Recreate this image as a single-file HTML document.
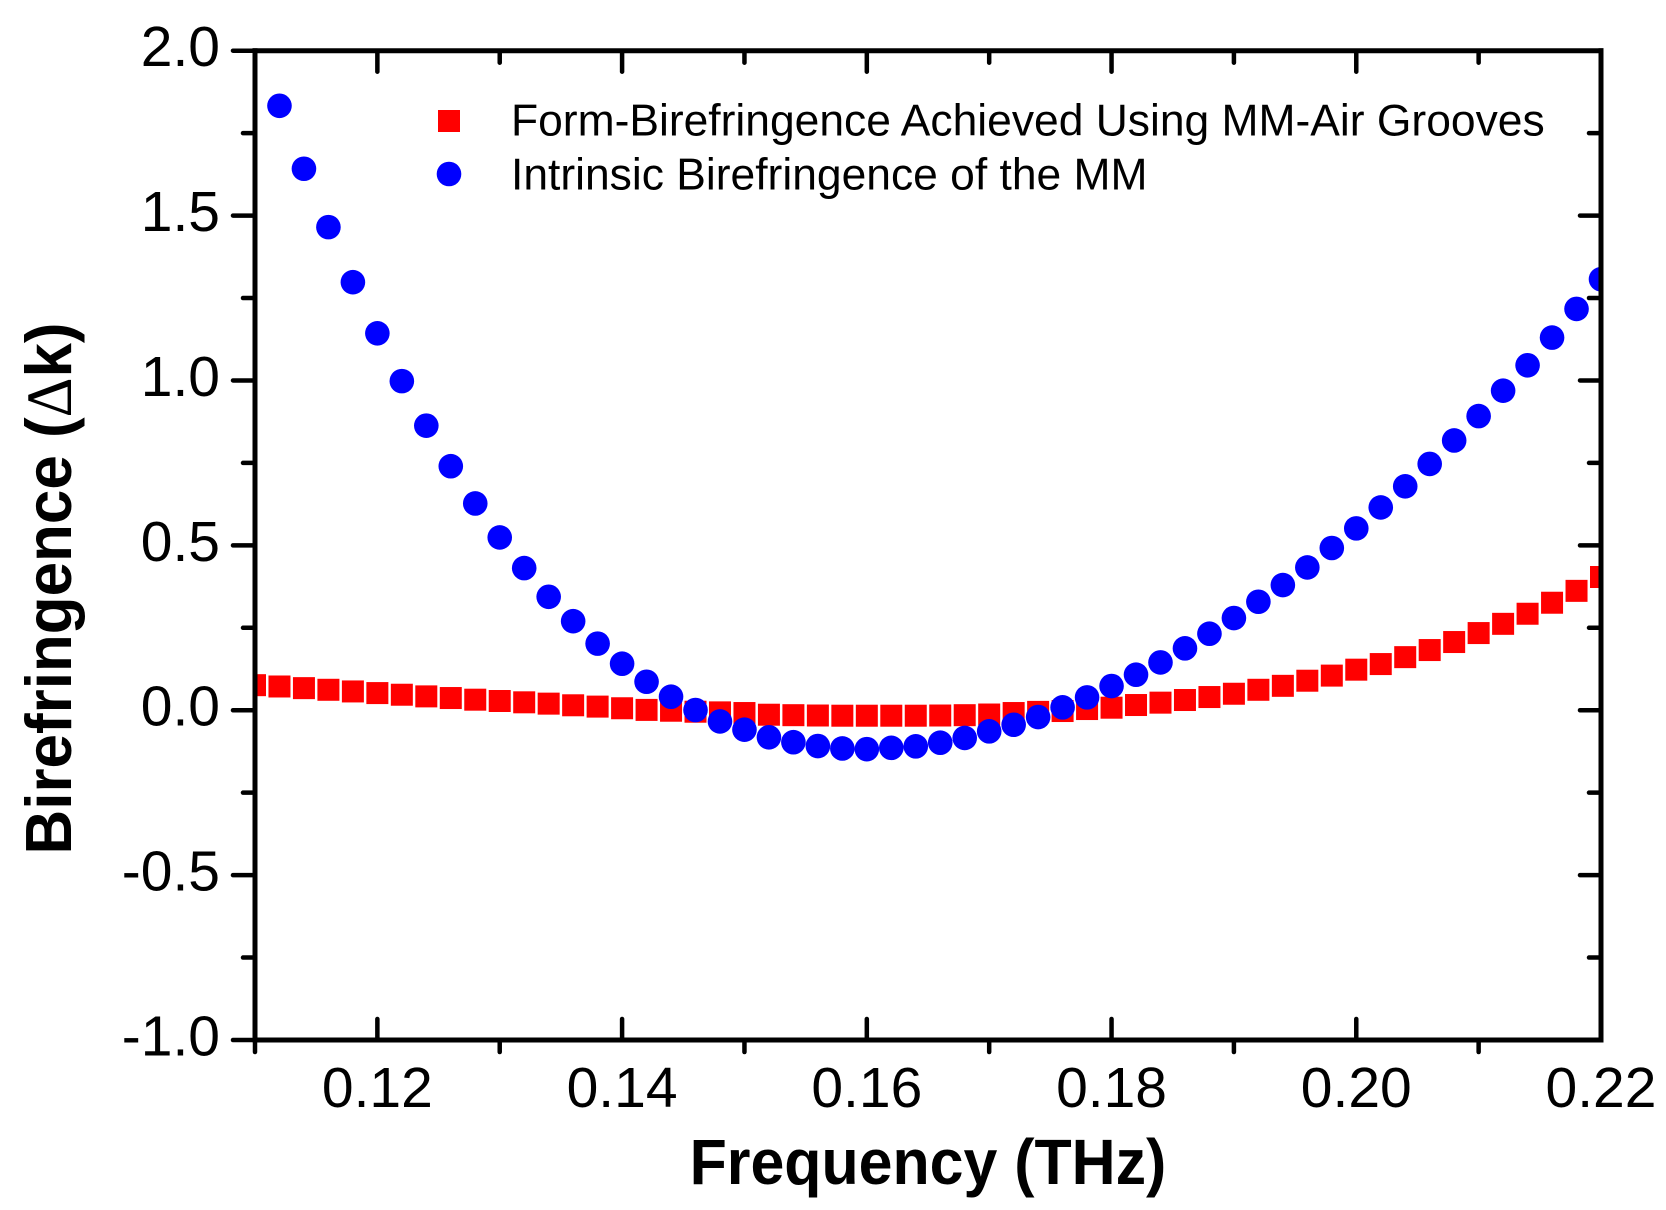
<!DOCTYPE html>
<html lang="en">
<head>
<meta charset="utf-8">
<title>Birefringence vs Frequency</title>
<style>
html,body{margin:0;padding:0;background:#fff;width:1666px;height:1210px;overflow:hidden}
svg{display:block}
text{font-family:"Liberation Sans",sans-serif;fill:#000}
</style>
</head>
<body>
<svg id="chart" width="1666" height="1210" viewBox="0 0 1666 1210" xmlns="http://www.w3.org/2000/svg">
  <defs><clipPath id="plot-clip"><rect x="255" y="50.7" width="346" height="989.3"/></clipPath></defs>
  <rect x="0" y="0" width="1666" height="1210" fill="#fff"/>
  <g id="series" clip-path="url(#plot-clip)"></g>
  <g id="axes"></g>
  <g id="labels"></g>
  <text transform="translate(689.6 1184) scale(0.951 1)" font-size="64" font-weight="bold">Frequency (THz)</text>
  <text transform="translate(71 854.5) rotate(-90) scale(0.953 1)" font-size="65" font-weight="bold">Birefringence (<tspan font-family="Liberation Serif" font-weight="normal">&#916;</tspan>k)</text>
  <g>
    <rect x="438" y="110" width="22" height="22" fill="#ff0000"/>
    <text x="511" y="135.5" font-size="44.4">Form-Birefringence Achieved Using MM-Air Grooves</text>
    <circle cx="449" cy="174" r="12.3" fill="#0000ff"/>
    <text x="511" y="189.5" font-size="44.4">Intrinsic Birefringence of the MM</text>
  </g>
</svg>
<script>
const frequencies = [0.110,0.112,0.114,0.116,0.118,0.120,0.122,0.124,0.126,0.128,0.130,0.132,0.134,0.136,0.138,0.140,0.142,0.144,0.146,0.148,0.150,0.152,0.154,0.156,0.158,0.160,0.162,0.164,0.166,0.168,0.170,0.172,0.174,0.176,0.178,0.180,0.182,0.184,0.186,0.188,0.190,0.192,0.194,0.196,0.198,0.200,0.202,0.204,0.206,0.208,0.210,0.212,0.214,0.216,0.218,0.220];
const formBirefringence = [0.076,0.072,0.067,0.062,0.057,0.052,0.047,0.042,0.037,0.032,0.028,0.024,0.020,0.015,0.011,0.006,0.001,-0.0015,-0.0045,-0.0065,-0.0085,-0.0136,-0.015,-0.016,-0.0166,-0.0166,-0.0166,-0.0166,-0.016,-0.015,-0.013,-0.0085,-0.005,-0.0024,0.0036,0.0077,0.0158,0.023,0.031,0.040,0.050,0.062,0.074,0.0895,0.105,0.123,0.140,0.161,0.1825,0.2068,0.234,0.262,0.2926,0.326,0.362,0.404];
const intrinsicBirefringence = [2.03,1.833,1.642,1.465,1.298,1.143,0.998,0.863,0.740,0.627,0.524,0.431,0.344,0.270,0.202,0.141,0.0864,0.041,0.0006,-0.034,-0.059,-0.082,-0.097,-0.1085,-0.116,-0.118,-0.114,-0.1095,-0.0985,-0.084,-0.064,-0.044,-0.0206,0.0088,0.039,0.0734,0.1077,0.145,0.1877,0.232,0.2796,0.329,0.3796,0.433,0.492,0.5515,0.615,0.679,0.747,0.818,0.892,0.969,1.046,1.130,1.217,1.307];
const xMajorTicks = [0.12,0.14,0.16,0.18,0.20,0.22];
const xMajorLabels = ["0.12","0.14","0.16","0.18","0.20","0.22"];
const xMinorTicks = [0.11,0.13,0.15,0.17,0.19,0.21];
const yMajorTicks = [2.0,1.5,1.0,0.5,0.0,-0.5,-1.0];
const yMajorLabels = ["2.0","1.5","1.0","0.5","0.0","-0.5","-1.0"];
const yMinorTicks = [1.75,1.25,0.75,0.25,-0.25,-0.75];

const NS = 'http://www.w3.org/2000/svg';
const PLOT = {left:255, right:1601, top:50.7, bottom:1040};
const DOMAIN = {xMin:0.11, xMax:0.22, yMin:-1, yMax:2};
function xScale(v){ return PLOT.left + (v - DOMAIN.xMin) / (DOMAIN.xMax - DOMAIN.xMin) * (PLOT.right - PLOT.left); }
function yScale(v){ return PLOT.bottom - (v - DOMAIN.yMin) / (DOMAIN.yMax - DOMAIN.yMin) * (PLOT.bottom - PLOT.top); }
function make(tag, attrs){
  const el = document.createElementNS(NS, tag);
  for (const k in attrs) el.setAttribute(k, attrs[k]);
  return el;
}

const seriesG = document.getElementById('series');
const clipRect = document.querySelector('#plot-clip rect');
clipRect.setAttribute('width', PLOT.right - PLOT.left);

const SQUARE = 22, RADIUS = 12.3;
formBirefringence.forEach(function(v, i){
  const r = make('rect', {x:xScale(frequencies[i]) - SQUARE/2, y:yScale(v) - SQUARE/2, width:SQUARE, height:SQUARE, fill:'#ff0000'});
  
  
  seriesG.appendChild(r);
});
intrinsicBirefringence.forEach(function(v, i){
  const c = make('circle', {cx:xScale(frequencies[i]), cy:yScale(v), r:RADIUS, fill:'#0000ff'});
  
  
  seriesG.appendChild(c);
});

const axesG = document.getElementById('axes');
function line(x1, y1, x2, y2, width, cap, name){
  const l = make('line', {x1:x1, y1:y1, x2:x2, y2:y2, stroke:'#000', 'stroke-width':width, 'stroke-linecap':cap});
  
  
  axesG.appendChild(l);
}
const MAJOR = 21, MINOR = 12, TW = 4.5, AW = 5;
xMajorTicks.forEach(function(v){
  const x = xScale(v);
  line(x, PLOT.top, x, PLOT.top + MAJOR, TW, 'round', 'top-major-tick');
  if (v < DOMAIN.xMax) line(x, PLOT.bottom, x, PLOT.bottom - MAJOR, TW, 'round', 'x-major-tick');
});
xMinorTicks.forEach(function(v){
  const x = xScale(v);
  if (v > DOMAIN.xMin) line(x, PLOT.top, x, PLOT.top + MINOR, TW, 'round', 'top-minor-tick');
  line(x, PLOT.bottom, x, PLOT.bottom + MINOR, TW, 'round', 'x-minor-tick');
});
yMajorTicks.forEach(function(v){
  const y = yScale(v);
  line(PLOT.left, y, PLOT.left - MAJOR - 1, y, TW, 'round', 'y-major-tick');
  if (v < DOMAIN.yMax && v > DOMAIN.yMin) line(PLOT.right, y, PLOT.right - MAJOR, y, TW, 'round', 'right-major-tick');
});
yMinorTicks.forEach(function(v){
  const y = yScale(v);
  line(PLOT.left, y, PLOT.left - MINOR, y, TW, 'round', 'y-minor-tick');
  line(PLOT.right, y, PLOT.right - MINOR, y, TW, 'round', 'right-minor-tick');
});
line(PLOT.left, PLOT.top, PLOT.right, PLOT.top, AW, 'square', 'top-axis-line');
line(PLOT.left, PLOT.bottom, PLOT.right, PLOT.bottom, AW, 'square', 'x-axis-line');
line(PLOT.left, PLOT.top, PLOT.left, PLOT.bottom, AW, 'square', 'y-axis-line');
line(PLOT.right, PLOT.top, PLOT.right, PLOT.bottom, AW, 'square', 'right-axis-line');

const labelsG = document.getElementById('labels');
xMajorLabels.forEach(function(s, i){
  const t = make('text', {x:xScale(xMajorTicks[i]), y:1107, 'font-size':57, 'text-anchor':'middle'});
  
  
  t.textContent = s;
  labelsG.appendChild(t);
});
yMajorLabels.forEach(function(s, i){
  const t = make('text', {x:220, y:yScale(yMajorTicks[i]) + 15.5, 'font-size':57, 'text-anchor':'end'});
  
  
  t.textContent = s;
  labelsG.appendChild(t);
});
</script>
</body>
</html>
